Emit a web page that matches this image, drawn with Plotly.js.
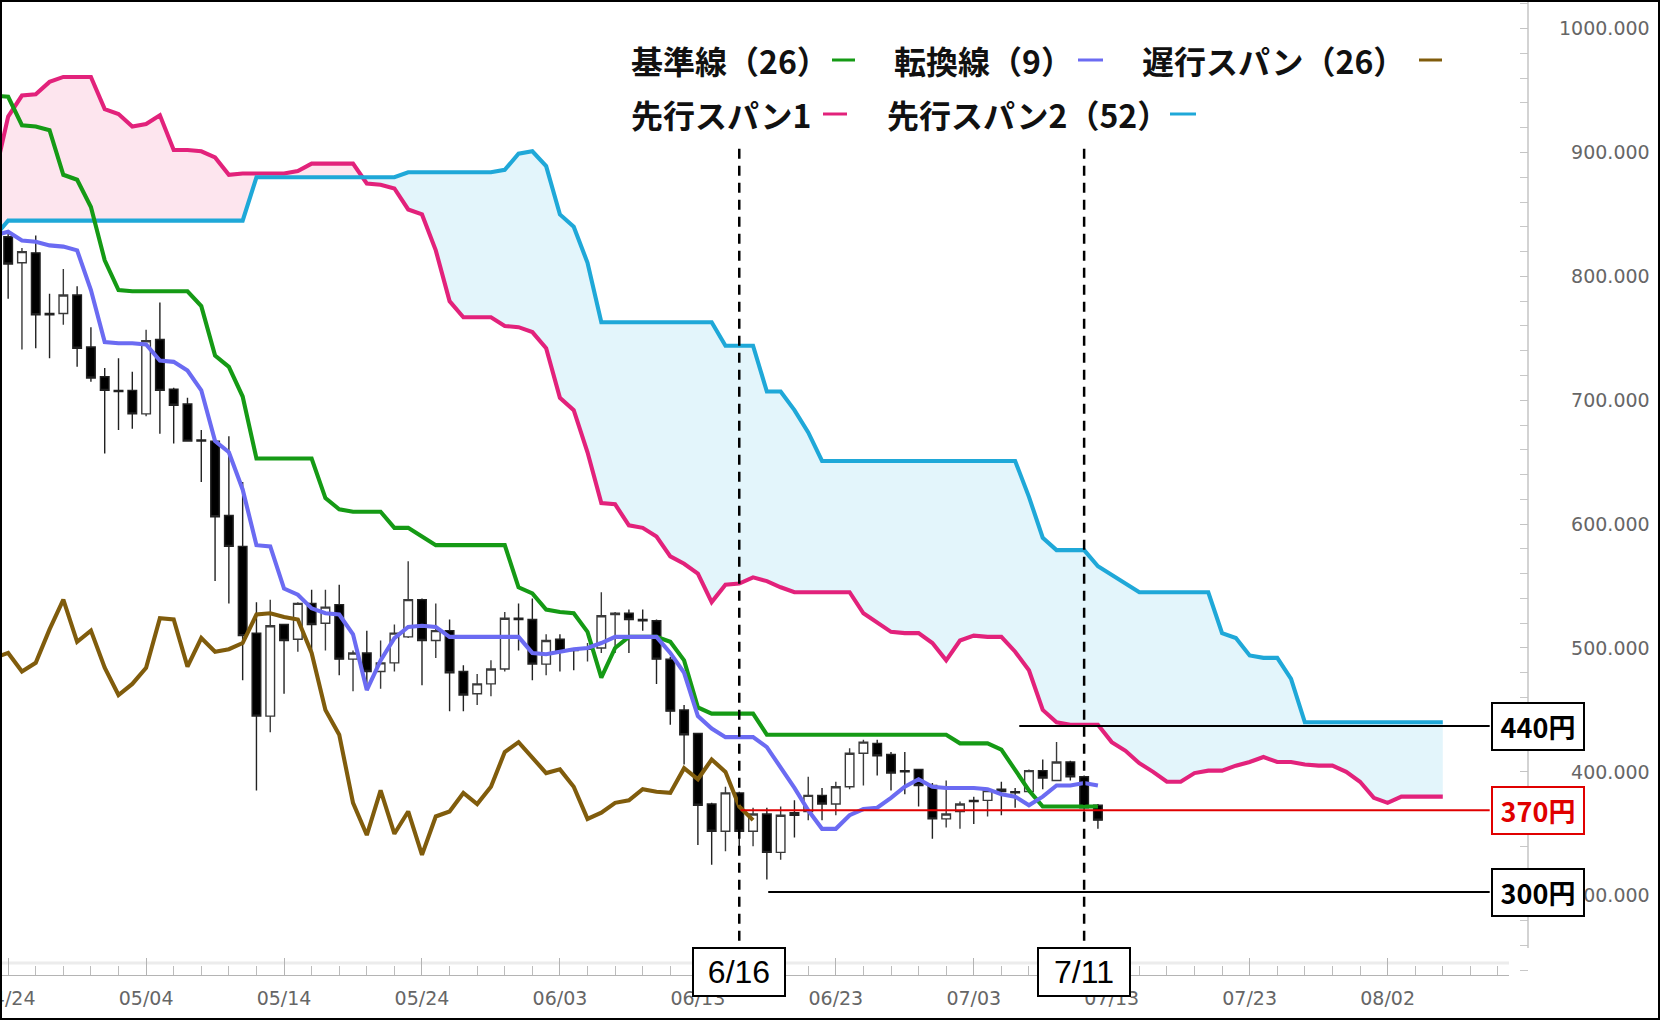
<!DOCTYPE html>
<html><head><meta charset="utf-8">
<script src="https://cdn.plot.ly/plotly-3.0.1.min.js"></script>
<style>html,body{margin:0;padding:0;background:#fff}#chart{width:1660px;height:1020px}</style>
</head><body><div id="chart"></div>
<script>
// ---- data (daily, day index 0 = 2022-04-24) ----
const startDate = Date.UTC(2022, 3, 24);
const DAY = 86400000;

// candles, day 0..79
const candleStart = 0;
const candleOpen = [832,811,819,770,770,785,743,719,708,708,
  689,749,709,697,668,667,607,582,512,445,
  519,507,536,520,535,491,496,481,488,509,
  539,506,514,481,463,471,483,524,523,487,
  507,499,499,500,527,528,523,522,491,450,
  431,374,352,383,352,366,335,367,368,381,
  374,388,415,423,414,401,402,389,362,368,
  377,377,386,384,384,401,393,408,396,373];
const candleHigh = [835,823,833,786,806,792,759,726,734,723,
  757,779,710,702,676,668,671,634,537,539,
  519,537,547,547,551,498,514,506,519,570,
  540,536,523,486,479,490,529,536,540,511,
  511,500,504,545,529,531,531,523,493,454,
  431,375,388,384,371,371,372,377,396,387,
  392,419,426,426,416,416,402,391,393,376,
  380,387,392,387,402,410,424,409,397,374];
const candleLow = [782,741,742,734,761,727,715,657,676,677,
  687,673,665,667,634,554,536,474,385,432,
  463,497,497,498,478,465,467,467,481,508,
  470,492,449,449,454,461,481,498,474,478,
  481,482,489,496,496,496,514,471,438,406,
  341,325,336,335,340,313,329,347,361,361,
  365,386,389,397,385,382,372,346,355,354,
  358,364,365,371,383,386,393,393,367,354];
const candleClose = [810,820,769,769,785,742,718,708,707,689,
  748,708,696,667,667,606,582,510,445,518,
  506,536,519,533,491,496,481,488,512,539,
  506,514,480,462,471,483,524,523,487,506,
  497,498,500,526,528,523,522,491,449,430,
  373,352,383,352,366,335,365,365,381,374,
  388,415,424,413,399,400,389,362,366,374,
  376,385,384,383,401,395,408,396,371,361];

// lines, starting at day -1
const lineStart = -1;
const tenkan = [833,
  836,829,828,825,824,821,789,747,746,746,
  745,732,731,724,708,667,658,628,583,582,
  548,543,532,528,527,511,466,490,508,517,
  518,517,509,509,509,509,509,509,496,495,
  497,499,500,504,509,509,509,509,496,480,
  445,435,428,428,428,420,404,387,369,354,
  354,365,370,371,379,388,394,388,387,387,
  387,386,382,380,373,380,389,389,391,389];
const kijun = [946,
  945,922,921,918,882,878,856,813,789,788,
  788,788,788,788,776,736,727,703,653,653,
  653,653,653,621,612,610,610,610,597,597,
  590,583,583,583,583,583,583,549,544,531,
  529,528,513,476,500,509,509,509,505,490,
  452,447,447,447,447,430,430,430,430,430,
  430,430,430,430,430,430,430,430,430,423,
  423,423,418,402,385,372,372,372,372,372];
const chikou = [492,
  496,481,488,515,539,505,514,484,462,471,
  484,524,523,485,508,497,499,504,527,528,
  525,523,496,450,430,375,349,385,350,368,
  333,364,368,383,374,388,416,424,412,399,
  402,388,362,367,375,377,386,384,383,403,
  394,410,400,372,361];
const senkouA = [880,
  929,946,947,957,961,961,961,935,931,921,
  923,930,902,902,901,896,882,883,883,883,
  883,885,891,891,891,891,875,874,871,854,
  850,821,780,767,767,767,760,759,755,742,
  702,692,658,617,616,599,597,590,574,568,
  560,537,551,552,557,554,549,545,545,545,
  545,545,528,520,513,512,512,504,490,506,
  510,509,509,497,482,450,440,438,438,438,
  424,417,407,400,392,392,399,401,401,405,
  408,412,408,408,406,405,405,400,392,379,
  375,380,380,380,380];
const senkouB = [832,
  845,845,845,845,845,845,845,845,845,845,
  845,845,845,845,845,845,845,845,880,880,
  880,880,880,880,880,880,880,880,880,884,
  884,884,884,884,884,884,886,899,901,889,
  850,840,811,763,763,763,763,763,763,763,
  763,763,744,744,744,707,707,692,674,651,
  651,651,651,651,651,651,651,651,651,651,
  651,651,651,651,622,589,579,579,579,566,
  559,552,545,545,545,545,545,545,512,508,
  494,492,492,475,440,440,440,440,440,440,
  440,440,440,440,440];

const yTickValues = [300,400,500,600,700,800,900,1000];
const legendNames = ['基準線（26）','転換線（9）','遅行スパン（26）','先行スパン1','先行スパン2（52）'];
const levelLabels = ['440円','370円','300円'];
const levelValues = [437,369,303];
const levelStartDay = [73.3,53.1,55.1];
const markerDays = [53,78];
const markerLabels = ['6/16','7/11'];

// ---- colours ----
const C = {kijun:'#159a15', tenkan:'#6b6bf2', chikou:'#805c0c', a:'#e2227b', b:'#1fa8d8',
  pinkFill:'#fde5ee', blueFill:'#e3f5fb', red:'#e00000'};

// ---- geometry helpers ----
const W=1660, H=1020, ML=2, MR=2, MT=2, MB=45;
const PW=W-ML-MR, PH=H-MT-MB;
const px = x => (x-ML)/PW;
const py = y => 1-(y-MT)/PH;
const dayX = d => startDate + d*DAY;
const seriesX = (start, arr) => arr.map((_, i) => dayX(start+i));

// cloud with crossing points
const cx=[], ca=[], cb=[];
for (let i=0;i<senkouA.length;i++){
  const d = lineStart+i;
  if (i>0){
    const d0 = senkouA[i-1]-senkouB[i-1], d1 = senkouA[i]-senkouB[i];
    if (d0*d1<0){
      const t = d0/(d0-d1);
      const yv = senkouA[i-1]+t*(senkouA[i]-senkouA[i-1]);
      cx.push(dayX(d-1+t)); ca.push(yv); cb.push(yv);
    }
  }
  cx.push(dayX(d)); ca.push(senkouA[i]); cb.push(senkouB[i]);
}
const cmin = ca.map((v,i)=>Math.min(v,cb[i]));

const LW = 4.1;
const lineTrace = (x,y,color) => ({type:'scatter',mode:'lines',x,y,line:{color,width:LW},hoverinfo:'skip'});

const traces = [
  {type:'scatter',mode:'lines',x:cx,y:cmin,line:{width:0},hoverinfo:'skip'},
  {type:'scatter',mode:'lines',x:cx,y:ca,line:{width:0},fill:'tonexty',fillcolor:C.pinkFill,hoverinfo:'skip'},
  {type:'scatter',mode:'lines',x:cx,y:cmin,line:{width:0},hoverinfo:'skip'},
  {type:'scatter',mode:'lines',x:cx,y:cb,line:{width:0},fill:'tonexty',fillcolor:C.blueFill,hoverinfo:'skip'},
  lineTrace(seriesX(lineStart,senkouA), senkouA, C.a),
  lineTrace(seriesX(lineStart,senkouB), senkouB, C.b),
  {type:'candlestick', x:seriesX(candleStart,candleOpen), open:candleOpen, high:candleHigh, low:candleLow, close:candleClose,
    increasing:{line:{color:'#3a3a3a',width:1.4},fillcolor:'#ffffff'},
    decreasing:{line:{color:'#222',width:1.4},fillcolor:'#000000'},
    whiskerwidth:0, hoverinfo:'skip'},
  lineTrace(seriesX(lineStart,chikou), chikou, C.chikou),
  lineTrace(seriesX(lineStart,kijun), kijun, C.kijun),
  lineTrace(seriesX(lineStart,tenkan), tenkan, C.tenkan)
];

const shapes = [];
const annotations = [];

// faint band above x ticks
shapes.push({type:'line',xref:'paper',yref:'paper',x0:0,x1:px(1509),y0:py(963),y1:py(963),line:{color:'#ececec',width:3},layer:'below'});
// right axis line
shapes.push({type:'line',xref:'paper',yref:'paper',x0:px(1528),x1:px(1528),y0:py(948),y1:py(0),line:{color:'#c4c4c4',width:1.5}});

// marker dashed lines + boxes
markerDays.forEach((d,i)=>{
  shapes.push({type:'line',xref:'x',yref:'y',x0:dayX(d),x1:dayX(d),y0:250,y1:903,line:{color:'#000',width:2.5,dash:'10px,7px'}});
  annotations.push({xref:'x',yref:'paper',x:dayX(d),y:py(972),xanchor:'center',yanchor:'middle',text:markerLabels[i],showarrow:false,
    font:{family:'Liberation Sans',size:32,color:'#000'},bgcolor:'#fff',bordercolor:'#000',borderwidth:2,borderpad:0,width:90,height:46});
});

// level lines + boxes
levelValues.forEach((v,i)=>{
  const col = i===1 ? C.red : '#000';
  shapes.push({type:'line',xref:'x',yref:'y',x0:dayX(levelStartDay[i]),x1:dayX(107.4),y0:v,y1:v,line:{color:col,width:2}});
  annotations.push({xref:'paper',yref:'y',x:px(1538),y:v,xanchor:'center',yanchor:'middle',text:'<b>'+levelLabels[i]+'</b>',showarrow:false,
    font:{family:'Noto Sans CJK JP',size:27,color:col},bgcolor:'#fff',bordercolor:col,borderwidth:2,borderpad:0,width:90,height:45});
});

// legend
const legendPos = [[629,60,832,855,C.kijun],[892,60,1078,1103,C.tenkan],[1140,60,1419,1442,C.chikou],
                   [629,114,823,847,C.a],[885,114,1170,1196,C.b]];
legendNames.forEach((name,i)=>{
  const p = legendPos[i];
  annotations.push({xref:'paper',yref:'paper',x:px(p[0]),y:py(p[1]),xanchor:'left',yanchor:'middle',text:'<b>'+name+'</b>',
    showarrow:false,font:{family:'Noto Sans CJK JP',size:32,color:'#111'}});
  shapes.push({type:'line',xref:'paper',yref:'paper',x0:px(p[2]),x1:px(p[3]),y0:py(p[1]),y1:py(p[1]),line:{color:p[4],width:3}});
});

// frame
shapes.push({type:'rect',xref:'paper',yref:'paper',x0:px(1),x1:px(W-1),y0:py(H-1),y1:py(1),line:{color:'#000',width:2}});

const layout = {
  width:W, height:H, margin:{l:ML,r:MR,t:MT,b:MB},
  paper_bgcolor:'#fff', plot_bgcolor:'#fff', showlegend:false, hovermode:false,
  boxgap:0.2, boxgroupgap:0.22,
  xaxis:{type:'date', domain:[0,px(1509)], range:[dayX(-0.446),dayX(108.8)],
    tickmode:'linear', tick0:dayX(0), dtick:10*DAY, tickformat:'%m/%d',
    ticks:'inside', ticklen:17, tickcolor:'#b4b4b4', tickwidth:1,
    minor:{tick0:dayX(0), dtick:2*DAY, ticks:'inside', ticklen:9, tickcolor:'#bcbcbc', showgrid:false},
    showline:true, linecolor:'#b4b4b4', linewidth:1, showgrid:false, zeroline:false,
    tickfont:{family:'DejaVu Sans',size:19,color:'#666'}, ticklabelstandoff:6, ticklabeloverflow:'allow',
    rangeslider:{visible:false}, fixedrange:true},
  yaxis:{side:'right', anchor:'free', position:px(1528), range:[236,1021.5],
    tickmode:'array', tickvals:yTickValues, ticktext:yTickValues.map(v=>(v<1000?'\u2007':'')+v.toFixed(3)),
    ticks:'inside', ticklen:8, tickcolor:'#c4c4c4',
    minor:{tick0:0, dtick:20, ticks:'inside', ticklen:8, tickcolor:'#c8c8c8', showgrid:false},
    showline:false, showgrid:false, zeroline:false, ticklabelstandoff:30,
    tickfont:{family:'DejaVu Sans',size:19,color:'#666'}, fixedrange:true},
  shapes, annotations
};

Plotly.newPlot('chart', traces, layout, {displayModeBar:false, staticPlot:true});
</script>
</body></html>
